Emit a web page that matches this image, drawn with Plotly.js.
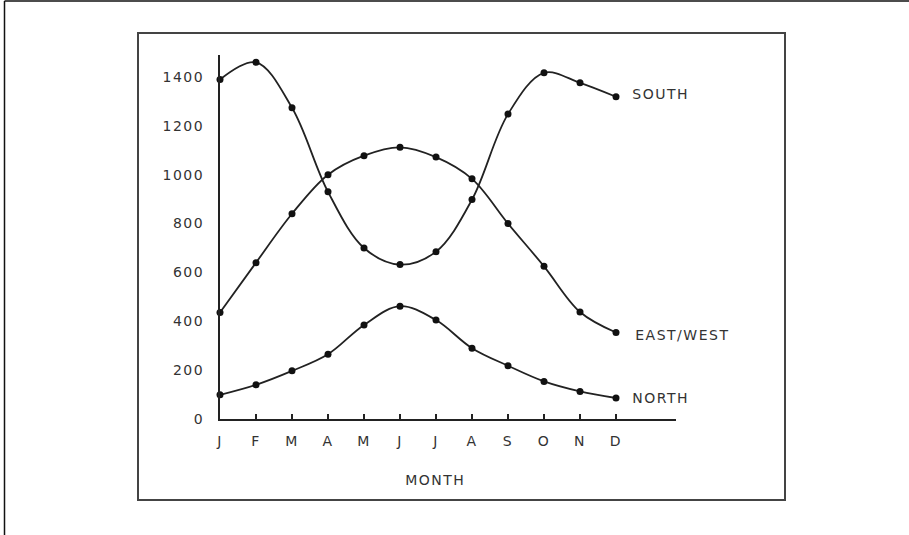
<!DOCTYPE html>
<html>
<head>
<meta charset="utf-8">
<script src="https://cdn.plot.ly/plotly-3.0.1.min.js"></script>
<style>
  html, body { margin: 0; padding: 0; background: #fff; }
  #chart { width: 909px; height: 535px; }
  #chart .xtick text, #chart .ytick text, #chart .annotation-text { letter-spacing: 1.5px; }
</style>
</head>
<body>
<div id="chart"></div>
<script>
// ---- data ----
const months = ["J", "F", "M", "A", "M", "J", "J", "A", "S", "O", "N", "D"];
const south = [1390, 1460, 1274, 930, 700, 632, 685, 898, 1248, 1417, 1376, 1319];
const eastWest = [436, 640, 840, 1000, 1078, 1112, 1072, 983, 800, 625, 438, 354];
const north = [99, 140, 197, 265, 385, 462, 405, 290, 218, 154, 113, 86];
const seriesNames = ["SOUTH", "EAST/WEST", "NORTH"];
const yTicks = [0, 200, 400, 600, 800, 1000, 1200, 1400];

// ---- layout geometry (pixels) ----
const W = 909, H = 535;
const plotL = 220, plotR = 676, plotT = 55, plotB = 419;
const pw = plotR - plotL, ph = plotB - plotT;
const px = v => (v - plotL) / pw;       // pixel x -> paper x
const py = v => (plotB - v) / ph;       // pixel y -> paper y

const idx = months.map((m, i) => i);
const ink = "#222";
const textCol = "#333";
const font = "DejaVu Sans, Liberation Sans, sans-serif";

function trace(vals, name) {
  return {
    x: idx, y: vals, name: name, type: "scatter", mode: "lines+markers",
    line: { color: ink, width: 1.8, shape: "spline", smoothing: 1 },
    marker: { color: "#111", size: 7 },
    cliponaxis: false, hoverinfo: "skip"
  };
}

const data = [trace(south, seriesNames[0]), trace(eastWest, seriesNames[1]), trace(north, seriesNames[2])];
const lastVals = [south[11], eastWest[11], north[11]];
const labelShift = [18, 24, 18];

const annotations = seriesNames.map((n, i) => ({
  x: idx[idx.length - 1], y: lastVals[i], xref: "x", yref: "y",
  text: n, showarrow: false, xanchor: "left", yanchor: "middle",
  xshift: labelShift[i], yshift: i === 0 ? 3 : (i === 1 ? -2 : 0),
  font: { family: font, size: 14, color: textCol }
}));
annotations.push({
  x: px(435), y: py(480), xref: "paper", yref: "paper", text: "MONTH",
  showarrow: false, xanchor: "center", yanchor: "middle",
  font: { family: font, size: 14, color: textCol }
});

const frameCol = "#444";
const shapes = [
  // inner frame
  { type: "rect", xref: "paper", yref: "paper",
    x0: px(138), x1: px(785), y0: py(500), y1: py(33),
    line: { color: frameCol, width: 2 } },
  // outer border (top and left edges)
  { type: "line", xref: "paper", yref: "paper",
    x0: px(4.5), x1: px(W), y0: py(1), y1: py(1),
    line: { color: "#111", width: 1.5 } },
  { type: "line", xref: "paper", yref: "paper",
    x0: px(4.5), x1: px(4.5), y0: py(1), y1: py(H),
    line: { color: "#111", width: 1.5 } }
];

const layout = {
  width: W, height: H,
  margin: { l: plotL, r: W - plotR, t: plotT, b: H - plotB, pad: 0 },
  paper_bgcolor: "#fff", plot_bgcolor: "#fff",
  showlegend: false,
  xaxis: {
    range: [0, (plotR - 220) / 36],
    tickmode: "array", tickvals: idx, ticktext: months,
    ticks: "inside", ticklen: 5, tickwidth: 1.5, tickcolor: ink,
    showline: true, linecolor: ink, linewidth: 2,
    showgrid: false, zeroline: false,
    tickfont: { family: font, size: 14, color: textCol },
    ticklabelstandoff: 8
  },
  yaxis: {
    range: [0, 1490],
    tickmode: "array", tickvals: yTicks, ticktext: yTicks.map(String),
    ticks: "", showline: true, linecolor: ink, linewidth: 2,
    showgrid: false, zeroline: false,
    tickfont: { family: font, size: 14, color: textCol },
    ticklabelstandoff: 11
  },
  annotations: annotations,
  shapes: shapes
};

Plotly.newPlot("chart", data, layout, { displayModeBar: false, staticPlot: true });
</script>
</body>
</html>
